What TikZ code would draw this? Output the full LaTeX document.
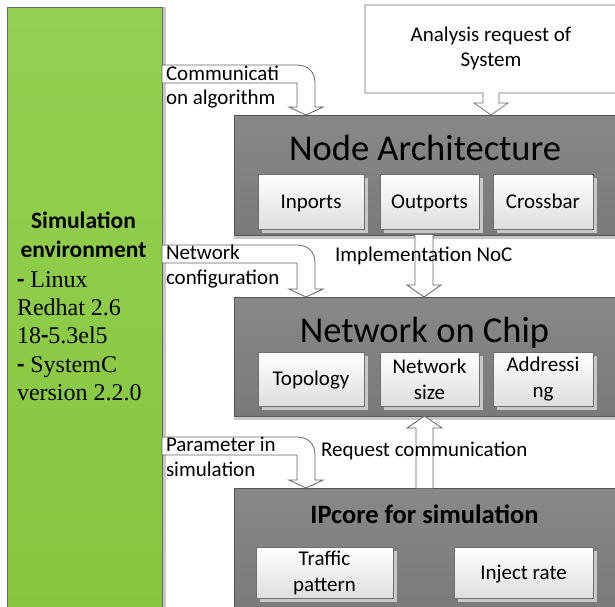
\documentclass[tikz,border=0pt]{standalone}
\usepackage{fontspec}
\setmainfont{Carlito}
\newfontfamily\timesf{Liberation Serif}
\usetikzlibrary{shadows,calc}
\definecolor{simgreen}{RGB}{148,208,82}
\definecolor{simgreenb}{RGB}{134,198,62}
\definecolor{darkA}{RGB}{136,136,136}
\definecolor{darkB}{RGB}{122,122,122}
\definecolor{darkline}{RGB}{85,85,85}
\definecolor{arrline}{RGB}{100,100,100}
\definecolor{boxline}{RGB}{110,110,110}
\definecolor{shadowgray}{RGB}{200,200,200}
\newcommand\bentarr[2]{% #1 = top edge y, #2 = tip y
  \filldraw[arrshape] (sim.east |- 0,#1) -- (297,#1)
    .. controls (308,#1) and (315,#1+7) .. (315,#1+18)
    -- (315,#2-8) -- (323,#2-8) -- (306,#2) -- (289,#2-8) -- (297,#2-8)
    -- (297,#1+18) -- (sim.east |- 0,#1+18) -- cycle;}
\newcommand\bdash{{\fontspec{Carlito}\bfseries -}}
\begin{document}
\begin{tikzpicture}[x=1pt,y=-1pt,
  every node/.style={inner sep=0pt,outer sep=0pt},
  simbox/.style={draw=black!60,line width=0.7pt,top color=simgreen,bottom color=simgreenb,anchor=north west,
    drop shadow={shadow xshift=4pt,shadow yshift=0pt,fill=shadowgray,opacity=1}},
  darkbox/.style={draw=darkline,line width=0.9pt,top color=darkA,bottom color=darkB,anchor=north west,
    drop shadow={shadow xshift=0pt,shadow yshift=-4pt,fill=shadowgray,opacity=1}},
  inbox/.style={draw=boxline,line width=0.7pt,top color=white,bottom color=black!13,anchor=north west,
    align=center,font=\fontsize{21}{26}\selectfont,
    drop shadow={shadow xshift=3.5pt,shadow yshift=-3.5pt,fill=shadowgray,opacity=1}},
  oneline/.style={text height=13.5pt,text depth=0.5pt},
  arrshape/.style={draw=arrline,fill=white,line width=0.8pt,line join=miter},
  lbl/.style={anchor=base west,font=\fontsize{21}{25}\selectfont},
  ctr/.style={anchor=base,font=\fontsize{21}{25}\selectfont},
  big/.style={anchor=base,font=\fontsize{36.5}{40}\selectfont},
  sertxt/.style={anchor=base west,font=\timesf\fontsize{24}{28}\selectfont},
  sttl/.style={anchor=base,font=\bfseries\fontsize{23.5}{28}\selectfont}]
\useasboundingbox (0,0) rectangle (615,606);
\clip (0,0) rectangle (615,606);
\fill[white] (0,0) rectangle (615,606);

% simulation environment
\node[simbox,minimum width=155,minimum height=610] (sim) at (7,7) {};
\node[sttl] (st1) at (83.5,228) {Simulation};
\node[sttl] (st2) at (83.5,257) {environment};
\node[sertxt] (s1) at (17,287) {\bdash\ Linux};
\node[sertxt] (s2) at (17,315) {Redhat 2.6};
\node[sertxt] (s3) at (17,343) {18\bdash5.3el5};
\node[sertxt] (s4) at (17,372) {\bdash\ SystemC};
\node[sertxt] (s5) at (17,400) {version 2.2.0};

% analysis request
\filldraw[arrshape,draw=boxline,line width=0.7pt] (365,5) -- (620,5) -- (620,93) -- (499,93) -- (499,103) -- (508,103)
  -- (491,115) -- (474,103) -- (483,103) -- (483,93) -- (365,93) -- cycle;
\node[ctr] (an1) at (491,41) {Analysis request of};
\node[ctr] (an2) at (491,66) {System};

% dark boxes
\node[darkbox,minimum width=386,minimum height=120] (na) at (234,115) {};
\node[darkbox,minimum width=386,minimum height=119] (noc) at (234,297) {};
\node[darkbox,minimum width=386,minimum height=122] (ip) at (234,488) {};

\node[big] (nat) at (425,160) {Node Architecture};
\node[big] (noct) at (424.5,342) {Network on Chip};
\node[anchor=base,font=\bfseries\fontsize{26.5}{30}\selectfont] (ipt) at (424.5,523) {IPcore for simulation};

% inner boxes
\node[inbox,oneline,minimum width=106,minimum height=55] (inp) at (258,174) {Inports};
\node[inbox,oneline,minimum width=99,minimum height=55] (outp) at (380,174) {Outports};
\node[inbox,oneline,minimum width=100,minimum height=55] (cross) at (493,174) {Crossbar};
\node[inbox,oneline,minimum width=106,minimum height=54] (topo) at (258,352) {Topology};
\node[inbox,minimum width=99,minimum height=54] (nsize) at (380,352) {Network\\size};
\node[inbox,minimum width=100,minimum height=54] (addr) at (493,352) {Addressi\\ng};
\node[inbox,minimum width=137,minimum height=51] (traf) at (256,547) {Traffic\\pattern};
\node[inbox,oneline,minimum width=139,minimum height=51] (inj) at (454,547) {Inject rate};

% bent arrows from simulation environment
\bentarr{65}{115}
\bentarr{245}{297}
\bentarr{437}{488}
\node[lbl] (c1) at (166,80) {Communicati};
\node[lbl] (c2) at (166,104) {on algorithm};
\node[lbl] (n1) at (166,259) {Network};
\node[lbl] (n2) at (166,284) {configuration};
\node[lbl] (p1) at (166,451) {Parameter in};
\node[lbl] (p2) at (166,476) {simulation};

% vertical arrows
\filldraw[arrshape] (415,0 |- na.south) -- (415,285) -- (407,285) -- (424,297) -- (441,285) -- (433,285) -- (433,0 |- na.south);
\node[lbl] (impl) at (335,261) {Implementation NoC};
\filldraw[arrshape] (416,0 |- ip.north) -- (416,428) -- (407,428) -- (424.5,416) -- (442,428) -- (433,428) -- (433,0 |- ip.north);
\node[lbl] (req) at (321,456) {Request communication};
\end{tikzpicture}
\end{document}
